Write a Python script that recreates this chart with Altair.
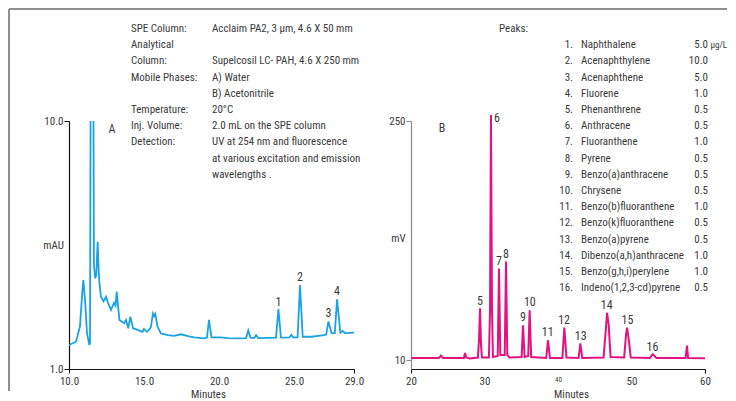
import altair as alt
import pandas as pd

# ---------------- data ----------------
# Panel A (UV 254 nm), time in minutes, signal in mAU
a_time = [10.0, 10.47, 10.73, 10.90, 10.96, 11.02, 11.07, 11.20, 11.36, 11.40, 11.53, 11.66, 11.74, 11.82,
          11.91, 11.97, 12.02, 12.13, 12.30, 12.47, 12.60, 12.80, 13.00, 13.10, 13.18, 13.36, 13.67, 13.80,
          13.95, 14.09, 14.27, 14.58, 14.90, 15.00, 15.20, 15.45, 15.60, 15.68, 15.75, 15.90, 16.13, 16.60,
          17.00, 17.47, 18.00, 18.36, 19.00, 19.20, 19.33, 19.50, 20.10, 20.60, 21.20, 21.80, 21.95, 22.10,
          22.35, 22.47, 22.62, 23.80, 23.96, 24.13, 24.70, 24.82, 24.94, 25.24, 25.40, 25.58, 26.16, 27.00,
          27.15, 27.29, 27.51, 27.72, 27.87, 28.09, 28.24, 28.40, 29.00]
a_mau = [1.87, 1.99, 2.54, 3.90, 4.23, 3.80, 3.50, 2.29, 1.87, 1.95, 30.0, 4.80, 4.30, 4.40,
         5.62, 4.70, 4.17, 3.62, 3.45, 3.62, 3.40, 3.14, 3.40, 3.30, 3.81, 2.78, 2.66, 2.78,
         2.48, 2.90, 2.48, 2.42, 2.35, 2.45, 2.35, 2.50, 3.02, 2.92, 3.00, 2.54, 2.29, 2.23,
         2.20, 2.26, 2.18, 2.15, 2.11, 2.14, 2.78, 2.15, 2.15, 2.12, 2.11, 2.12, 2.40, 2.14,
         2.12, 2.23, 2.12, 2.14, 3.17, 2.14, 2.15, 2.24, 2.15, 2.15, 4.05, 2.17, 2.17, 2.23,
         2.25, 2.72, 2.30, 2.30, 3.53, 2.32, 2.38, 2.30, 2.32]

a_peak_labels = ["1", "2", "3", "4"]
a_peak_time = [23.96, 25.40, 27.29, 27.87]
a_peak_ylab = [3.44, 4.35, 3.02, 3.83]

# Panel B (fluorescence), time in minutes, signal in mV
b_time = [20.0, 23.8, 24.08, 24.35, 27.2, 27.35, 27.5, 28.0, 29.1, 29.25, 29.39, 29.53, 29.65, 30.6,
          30.75, 30.88, 31.02, 31.15, 31.8, 31.97, 32.15, 32.75, 32.93, 33.1, 33.4, 35.05, 35.24, 35.45,
          35.95, 36.14, 36.35, 38.4, 38.64, 38.9, 40.6, 40.86, 41.15, 42.8, 43.04, 43.3, 46.2, 46.5,
          46.67, 46.9, 47.15, 49.0, 49.25, 49.39, 49.6, 49.9, 52.5, 52.88, 53.4, 57.35, 57.55, 57.7, 60.0]
b_mv = [12.0, 12.0, 14.5, 12.0, 12.0, 17.0, 12.5, 11.5, 12.5, 30.0, 62.0, 25.0, 12.5, 12.5,
        60.0, 256.0, 60.0, 13.0, 14.0, 102.0, 15.0, 15.0, 109.0, 15.0, 12.5, 13.0, 45.0, 13.0,
        14.0, 60.0, 13.0, 12.0, 30.0, 12.0, 12.0, 42.5, 12.5, 12.0, 26.8, 12.0, 12.5, 40.0,
        57.5, 45.0, 13.0, 12.5, 35.0, 42.5, 32.0, 12.5, 12.0, 15.8, 12.0, 12.0, 24.4, 12.0, 11.7]

b_peak_labels = ["5", "6", "7", "8", "9", "10", "11", "12", "13", "14", "15", "16"]
b_peak_time = [29.38, 31.68, 31.96, 32.91, 35.22, 36.17, 38.61, 40.83, 43.10, 46.63, 49.44, 52.84]
b_peak_ylab = [69.3, 253.0, 109.8, 116.5, 53.2, 68.3, 38.2, 50.2, 34.1, 65.3, 50.2, 23.4]

cond_labels = ["SPE Column:", "Analytical", "Column:", "Mobile Phases:", "", "Temperature:",
               "Inj. Volume:", "Detection:", "", ""]
cond_values = ["Acclaim PA2, 3 µm, 4.6 X 50 mm", "", "Supelcosil LC- PAH, 4.6 X 250 mm", "A) Water",
               "B) Acetonitrile", "20°C", "2.0 mL on the SPE column", "UV at 254 nm and fluorescence",
               "at various excitation and emission", "wavelengths ."]

peak_numbers = [f"{i}." for i in range(1, 17)]
peak_names = ["Naphthalene", "Acenaphthylene", "Acenaphthene", "Fluorene", "Phenanthrene", "Anthracene",
              "Fluoranthene", "Pyrene", "Benzo(a)anthracene", "Chrysene", "Benzo(b)fluoranthene",
              "Benzo(k)fluoranthene", "Benzo(a)pyrene", "Dibenzo(a,h)anthracene", "Benzo(g,h,i)perylene",
              "Indeno(1,2,3-cd)pyrene"]
peak_conc = ["5.0", "10.0", "5.0", "1.0", "0.5", "0.5", "1.0", "0.5", "0.5", "0.5", "1.0", "0.5",
             "0.5", "1.0", "1.0", "0.5"]

# ---------------- styling ----------------
FONT = "Liberation Sans Narrow, Roboto Condensed, DejaVu Sans Condensed, Arial Narrow, sans-serif"
TXT = "#3a3a3a"
BLUE = "#1aa3e3"
MAGENTA = "#e3127f"

a_df = pd.DataFrame({"t": a_time, "v": a_mau})
b_df = pd.DataFrame({"t": b_time, "v": b_mv})
a_lab = pd.DataFrame({"t": a_peak_time, "v": a_peak_ylab, "label": a_peak_labels})
b_lab = pd.DataFrame({"t": b_peak_time, "v": b_peak_ylab, "label": b_peak_labels})
cond_df = pd.DataFrame({"row": list(range(len(cond_labels))), "k": cond_labels, "val": cond_values})
peaks_df = pd.DataFrame({"row": list(range(1, 17)), "num": peak_numbers, "name": peak_names,
                         "conc": peak_conc})
one = pd.DataFrame({"k": [0]})

end_ticks_a = {"condition": {"test": "datum.value == 10 || datum.value == 29", "value": 1}, "value": 0}
end_ticks_b = {"condition": {"test": "datum.value == 20 || datum.value == 60", "value": 1}, "value": 0}

# ---------------- Panel A ----------------
xa = alt.X("t:Q", scale=alt.Scale(domain=[10, 29], nice=False, zero=False),
           axis=alt.Axis(values=[10, 15, 20, 25, 29], format=".1f", title="Minutes", grid=False,
                         tickSize=4, tickOpacity=end_ticks_a, labelPadding=2, labelFlush=False,
                         titleX=139, titleY=19, titleBaseline="top", titleAlign="center"))
ya = alt.Y("v:Q", scale=alt.Scale(domain=[1, 10], nice=False, zero=False),
           axis=alt.Axis(values=[1, 10], format=".1f", title="mAU", grid=False, titleAngle=0,
                         titleX=-16, titleY=124, titleAlign="center", titleBaseline="middle",
                         tickSize=5, labelPadding=1, labelFlush=False))

a_line = alt.Chart(a_df).mark_line(color=BLUE, strokeWidth=1.8, clip=True).encode(x=xa, y=ya)
a_text = alt.Chart(a_lab).mark_text(font=FONT, fontSize=12, color=TXT, baseline="middle").encode(
    x="t:Q", y="v:Q", text="label:N")
a_letter = alt.Chart(one).mark_text(font=FONT, fontSize=12, color=TXT, text="A").encode(
    x=alt.value(43), y=alt.value(8))

frame_top = alt.Chart(one).mark_rule(color="#6a6a6a", strokeWidth=1.5).encode(
    x=alt.value(-60), x2=alt.value(658), y=alt.value(-112))
frame_left = alt.Chart(one).mark_rule(color="#6a6a6a", strokeWidth=1.5).encode(
    x=alt.value(-60), y=alt.value(-112), y2=alt.value(270))

cond_base = alt.Chart(cond_df).transform_calculate(py="datum.row * 16.2 - 92")
cond_k = cond_base.mark_text(font=FONT, fontSize=11, color=TXT, align="left", baseline="middle").encode(
    x=alt.value(62), y=alt.Y("py:Q", scale=None, axis=None), text="k:N")
cond_v = cond_base.mark_text(font=FONT, fontSize=11, color=TXT, align="left", baseline="middle").encode(
    x=alt.value(143), y=alt.Y("py:Q", scale=None, axis=None), text="val:N")

panel_a = alt.layer(frame_top, frame_left, a_line, a_text, a_letter, cond_k, cond_v).properties(
    width=285, height=248)

# ---------------- Panel B ----------------
xb = alt.X("t:Q", scale=alt.Scale(domain=[20, 60], nice=False, zero=False),
           axis=alt.Axis(values=[20, 30, 40, 50, 60], format="d", title="Minutes", grid=False,
                         tickSize=4, tickOpacity=end_ticks_b, labelPadding=2, labelFlush=False,
                         labelFontSize={"condition": {"test": "datum.value == 40", "value": 7}, "value": 11},
                         titleX=160, titleY=19, titleBaseline="top", titleAlign="center"))
yb = alt.Y("v:Q", scale=alt.Scale(domain=[1, 250], nice=False, zero=False),
           axis=alt.Axis(values=[10, 250], format="d", title="mV", grid=False, titleAngle=0,
                         titleX=-13, titleY=117, titleAlign="center", titleBaseline="middle",
                         tickSize=5, labelPadding=1, labelFlush=False,
                         domainColor="#8a8a8a", tickColor="#8a8a8a"))

b_line = alt.Chart(b_df).mark_line(color=MAGENTA, strokeWidth=2).encode(x=xb, y=yb)
b_text = alt.Chart(b_lab).mark_text(font=FONT, fontSize=12, color=TXT, baseline="middle").encode(
    x="t:Q", y="v:Q", text="label:N")
b_letter = alt.Chart(one).mark_text(font=FONT, fontSize=12, color=TXT, text="B").encode(
    x=alt.value(31), y=alt.value(7))
peaks_title = alt.Chart(one).mark_text(font=FONT, fontSize=11, color=TXT, text="Peaks:",
                                       align="left", baseline="middle").encode(
    x=alt.value(88), y=alt.value(-92))
unit = alt.Chart(one).mark_text(font=FONT, fontSize=9, color=TXT, text="µg/L",
                                align="left", baseline="middle").encode(
    x=alt.value(299.5), y=alt.value(-76))

pk_base = alt.Chart(peaks_df).transform_calculate(py="datum.row * 16.2 - 92")
pk_num = pk_base.mark_text(font=FONT, fontSize=11, color=TXT, align="right", baseline="middle").encode(
    x=alt.value(162), y=alt.Y("py:Q", scale=None, axis=None), text="num:N")
pk_name = pk_base.mark_text(font=FONT, fontSize=11, color=TXT, align="left", baseline="middle").encode(
    x=alt.value(170), y=alt.Y("py:Q", scale=None, axis=None), text="name:N")
pk_conc = pk_base.mark_text(font=FONT, fontSize=11, color=TXT, align="right", baseline="middle").encode(
    x=alt.value(297), y=alt.Y("py:Q", scale=None, axis=None), text="conc:N")

panel_b = alt.layer(b_line, b_text, b_letter, peaks_title, unit, pk_num, pk_name, pk_conc).properties(
    width=294, height=248)

chart = alt.hconcat(panel_a, panel_b, spacing=57, bounds="flush").properties(
    padding=0
).configure_view(stroke=None).configure_axis(
    labelFont=FONT, titleFont=FONT, labelFontSize=11, titleFontSize=11, titleFontWeight="normal",
    labelColor=TXT, titleColor=TXT, domainColor="#111111", tickColor="#111111", domainWidth=1.2
)

chart.save("out.html", embed_options={"renderer": "svg", "actions": False})
